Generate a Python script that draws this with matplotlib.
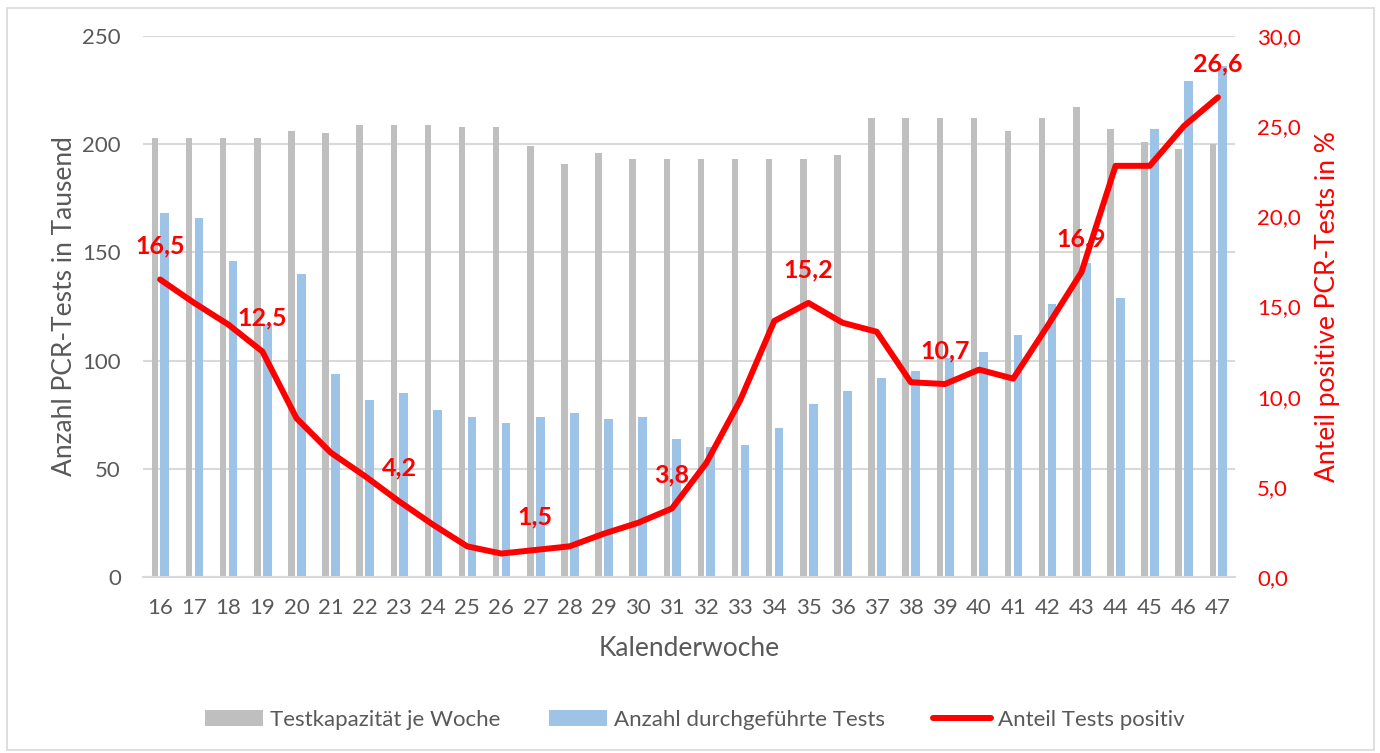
import matplotlib
matplotlib.use("Agg")
import matplotlib.pyplot as plt
from matplotlib.patches import Rectangle, Patch
from matplotlib.lines import Line2D
import numpy as np

plt.rcParams['font.family'] = ['Lato', 'DejaVu Sans']

weeks = list(range(16, 48))
capacity = [203, 203, 203, 203, 206, 205, 209, 209, 209, 208, 208, 199, 191, 196, 193, 193,
            193, 193, 193, 193, 195, 212, 212, 212, 212, 206, 212, 217, 207, 201, 198, 200]
tests = [168, 166, 146, 117, 140, 94, 82, 85, 77, 74, 71, 74, 76, 73, 74, 64,
         60, 61, 69, 80, 86, 92, 95, 101, 104, 112, 126, 145, 129, 207, 229, 236]
positive = [16.5, 15.2, 14.0, 12.5, 8.8, 6.9, 5.6, 4.2, 2.9, 1.7, 1.3, 1.5, 1.7, 2.4, 3.0, 3.8,
            6.3, 9.8, 14.2, 15.2, 14.1, 13.6, 10.8, 10.7, 11.5, 11.0, 13.9, 16.9, 22.8, 22.8, 25.0, 26.6]
label_weeks = [16, 19, 23, 27, 31, 35, 39, 43, 47]

GRAY_TXT = '#595959'
RED = '#FF0000'
GRAY_BAR = '#BFBFBF'
BLUE_BAR = '#9DC3E6'
GRID = '#D9D9D9'

W, H = 1380, 753
fig = plt.figure(figsize=(W / 100, H / 100), dpi=100)
fig.patch.set_facecolor('white')
fig.patches.append(Rectangle((7 / W, 3 / H), 1367 / W, 742 / H, transform=fig.transFigure,
                             fill=False, edgecolor=GRID, linewidth=1.2))

ax = fig.add_axes([143 / W, 176 / H, 1092 / W, 541 / H])
x = np.arange(len(weeks))
ax.bar(x - 0.15, capacity, width=0.19, color=GRAY_BAR, zorder=2)
ax.bar(x + 0.14, tests, width=0.255, color=BLUE_BAR, zorder=2)
ax.set_xlim(-0.5, len(weeks) - 0.5)
ax.set_ylim(0, 250)
ax.set_yticks(range(0, 251, 50))
ax.set_xticks(x)
ax.set_xticklabels([str(w) for w in weeks])
ax.yaxis.grid(True, color=GRID, linewidth=1.5, zorder=0)
ax.set_axisbelow(True)
for s in ['top', 'left', 'right']:
    ax.spines[s].set_visible(False)
ax.spines['bottom'].set_color(GRID)
ax.spines['bottom'].set_linewidth(1.5)
ax.tick_params(axis='x', length=0, pad=15, labelsize=16, labelcolor=GRAY_TXT)
ax.tick_params(axis='y', length=0, pad=16, labelsize=16, labelcolor=GRAY_TXT)
ax.set_ylabel('Anzahl PCR-Tests in Tausend', fontsize=19, color=GRAY_TXT, labelpad=4)
ax.set_xlabel('Kalenderwoche', fontsize=19, color=GRAY_TXT, labelpad=13)

ax2 = ax.twinx()
ax2.plot(x, positive, color=RED, linewidth=4.3, solid_capstyle='round', solid_joinstyle='round', zorder=5)
ax2.set_ylim(0, 30)
ax2.set_yticks(range(0, 31, 5))
ax2.set_yticklabels([f'{v:.1f}'.replace('.', ',') for v in range(0, 31, 5)])
for s in ['top', 'left', 'right', 'bottom']:
    ax2.spines[s].set_visible(False)
ax2.tick_params(axis='y', length=0, pad=16, labelsize=16, labelcolor=RED)
ax2.set_ylabel('Anteil positive PCR-Tests in %', fontsize=19, color=RED, labelpad=10)

for w in label_weeks:
    i = weeks.index(w)
    ax2.annotate(f'{positive[i]:.1f}'.replace('.', ','), (x[i], positive[i]),
                 xytext=(0, 24), textcoords='offset points', ha='center', va='center',
                 fontsize=18, fontweight='bold', color=RED, zorder=6)

handles = [Patch(facecolor=GRAY_BAR, edgecolor='none'),
           Patch(facecolor=BLUE_BAR, edgecolor='none'),
           Line2D([0], [0], color=RED, linewidth=4.3, solid_capstyle='round')]
labels = ['Testkapazität je Woche', 'Anzahl durchgeführte Tests', 'Anteil Tests positiv']
leg = fig.legend(handles, labels, loc='center', bbox_to_anchor=(695 / W, 1 - 720 / H), ncol=3,
                 frameon=False, fontsize=16, handlelength=2.6, handleheight=0.7,
                 handletextpad=0.3, columnspacing=2.2)
for t in leg.get_texts():
    t.set_color(GRAY_TXT)

fig.savefig('out.png', dpi=100, facecolor='white')
